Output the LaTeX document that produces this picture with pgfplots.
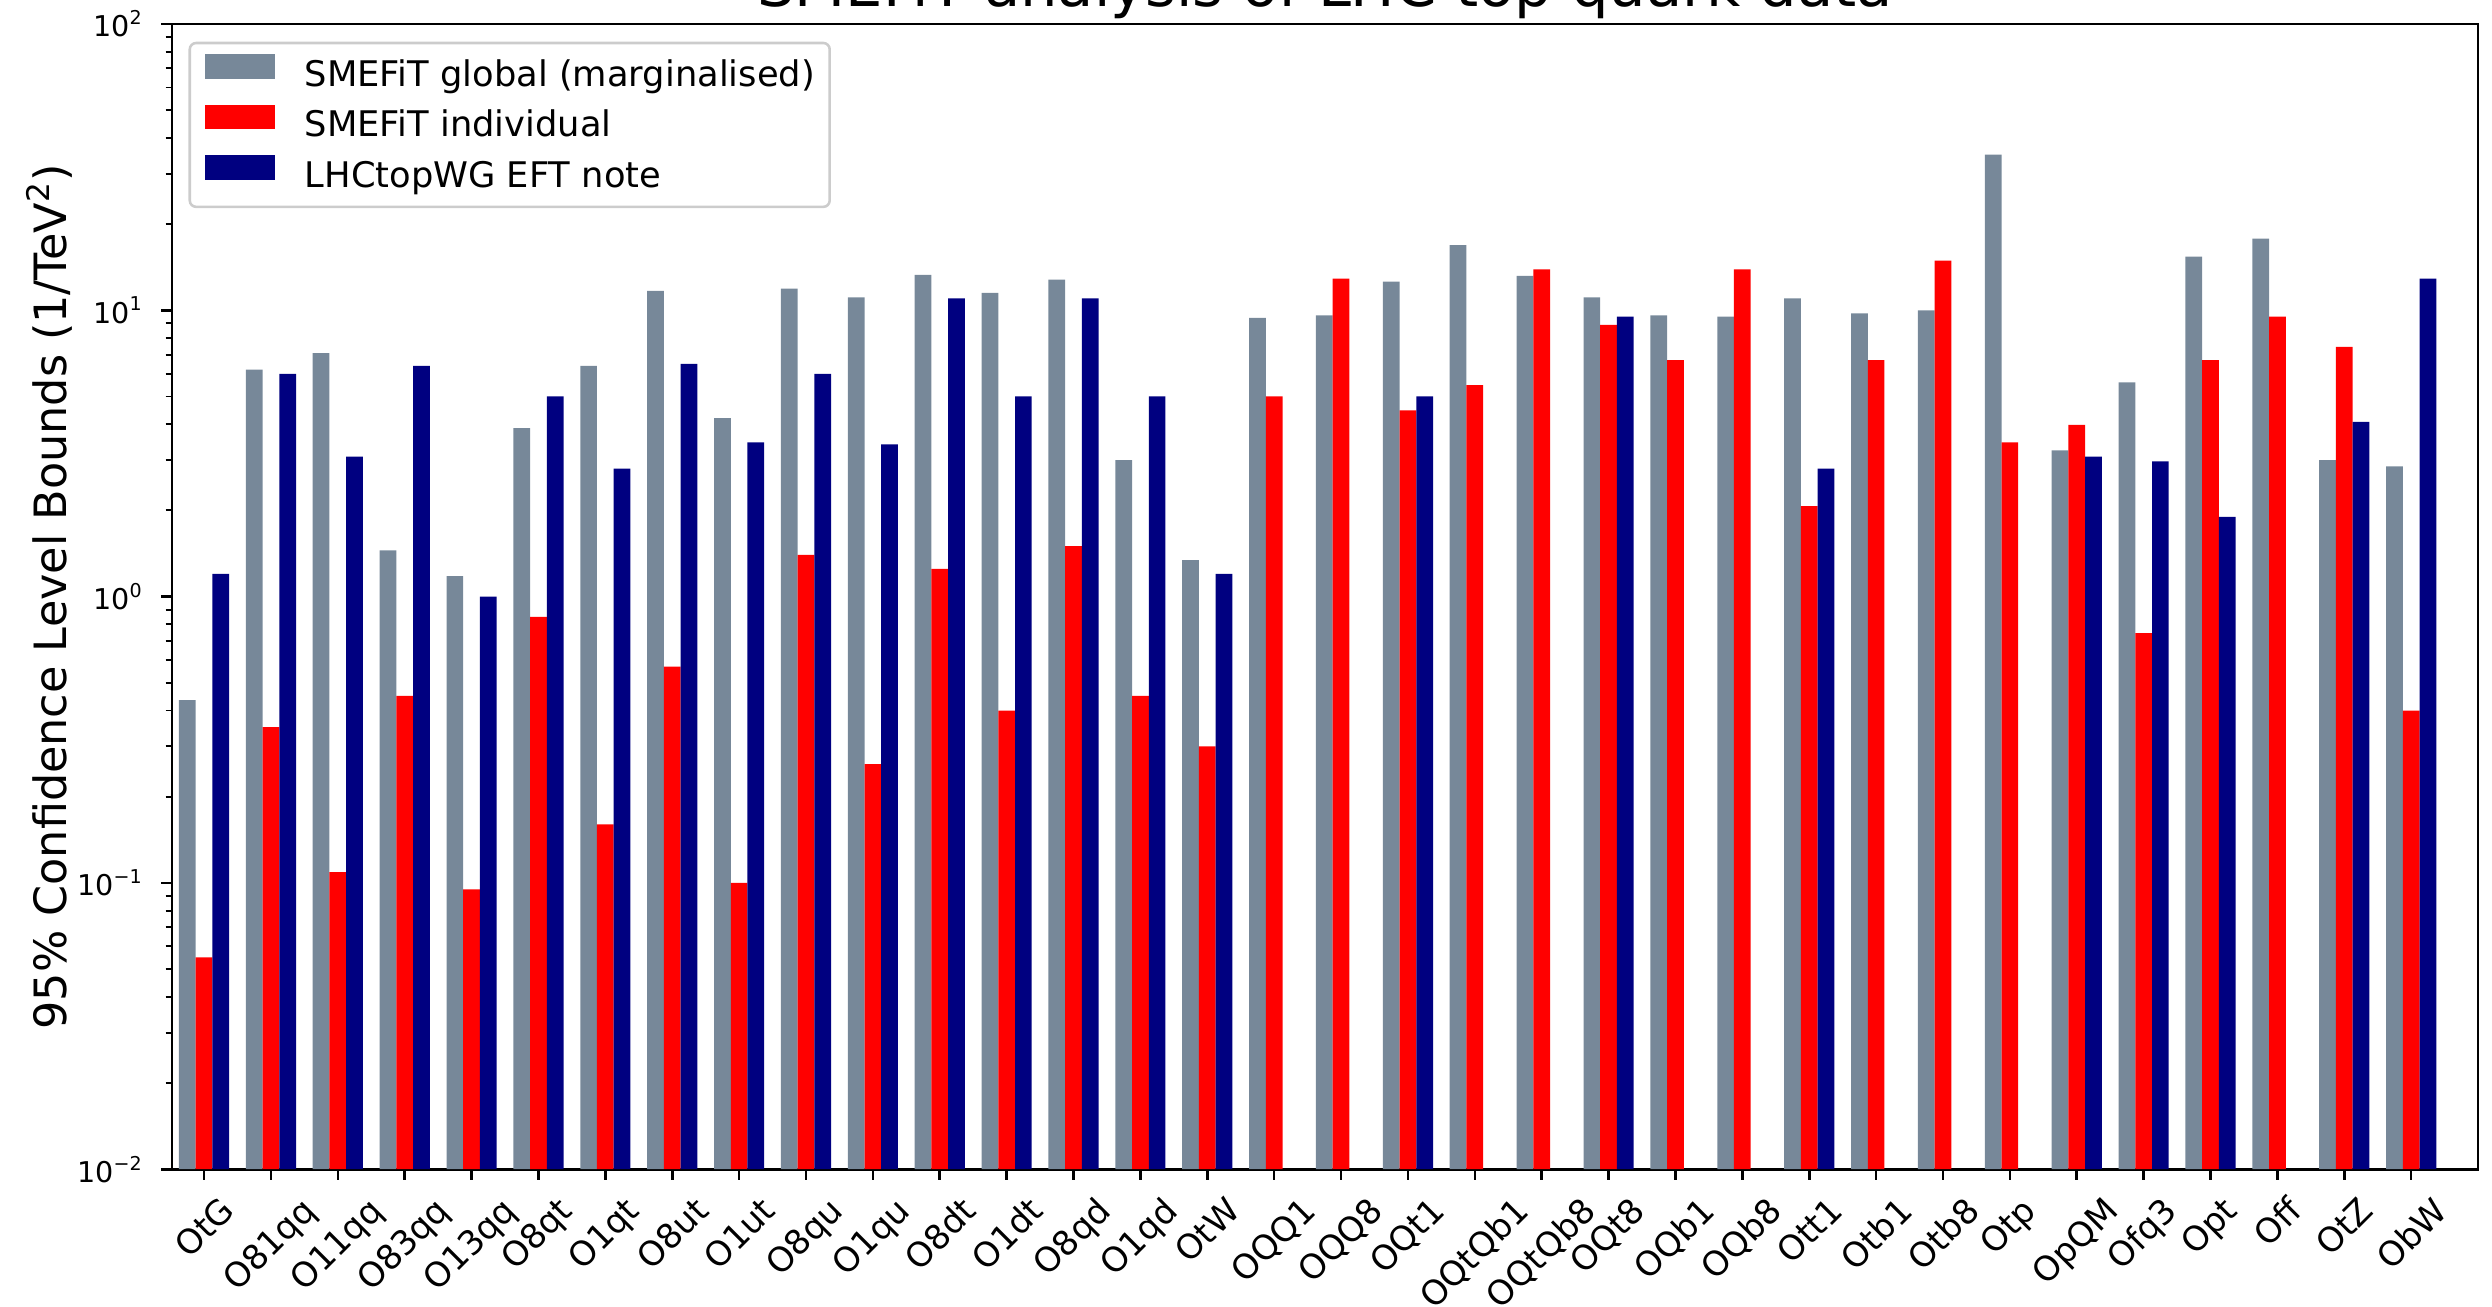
\documentclass[border=0pt]{standalone}
\usepackage{fontspec}
\setmainfont{DejaVu Sans}
\usepackage{pgfplots}
\pgfplotsset{compat=1.18}
\definecolor{slate}{HTML}{778899}
\definecolor{navyc}{HTML}{000080}
\definecolor{redc}{HTML}{FF0000}
\newcommand{\rl}[1]{\rotatebox{45}{#1}}
\begin{document}
\begin{tikzpicture}
\begin{axis}[
  name=ax,
  scale only axis, width=725.5pt, height=360.3pt,
  ymode=log, ymin=1e-2, ymax=1e2, log origin=infty,
  xmin=-0.48, xmax=34.0,
  xtick={0,...,33},
  xticklabels={\rl{OtG},\rl{O81qq},\rl{O11qq},\rl{O83qq},\rl{O13qq},\rl{O8qt},\rl{O1qt},\rl{O8ut},\rl{O1ut},\rl{O8qu},\rl{O1qu},\rl{O8dt},\rl{O1dt},\rl{O8qd},\rl{O1qd},\rl{OtW},\rl{OQQ1},\rl{OQQ8},\rl{OQt1},\rl{OQtQb1},\rl{OQtQb8},\rl{OQt8},\rl{OQb1},\rl{OQb8},\rl{Ott1},\rl{Otb1},\rl{Otb8},\rl{Otp},\rl{OpQM},\rl{Ofq3},\rl{Opt},\rl{Off},\rl{OtZ},\rl{ObW}},
  xticklabel style={anchor=north, inner sep=0pt, yshift=-4.6pt, font=\fontsize{10.7}{12}\selectfont},
  ytick={1e-2,1e-1,1,10,100},
  yticklabels={10\textsuperscript{−2},10\textsuperscript{−1},10\textsuperscript{0},10\textsuperscript{1},10\textsuperscript{2}},
  minor ytick={2e-2,3e-2,4e-2,5e-2,6e-2,7e-2,8e-2,9e-2,2e-1,3e-1,4e-1,5e-1,6e-1,7e-1,8e-1,9e-1,2,3,4,5,6,7,8,9,20,30,40,50,60,70,80,90},
  yticklabel style={anchor=east, inner sep=0pt, xshift=-5.5pt, font=\fontsize{9}{11}\selectfont},
  tick align=outside,
  xtick pos=bottom, ytick pos=left,
  major tick length=3.3pt, minor tick length=2pt,
  every tick/.style={black, line width=0.8pt},
  minor tick style={line width=0.6pt},
  axis line style={line width=0.8pt},
  title={SMEFiT analysis of LHC top quark data},
  title style={at={(axis description cs:0.5,1)}, anchor=base, yshift=-0.6pt, font=\fontsize{18.6}{22}\selectfont},
  ylabel={95\% Confidence Level Bounds (1/TeV\textsuperscript{2})},
  ylabel style={at={(axis description cs:-0.0532,0.5)}, anchor=center, font=\fontsize{14}{16}\selectfont},
  legend style={at={(axis description cs:0.00717,0.9845)}, anchor=north west,
    draw=black!20, line width=0.8pt, rounded corners=2pt, fill=white,
    inner xsep=4.7pt, inner ysep=3.6pt, row sep=3.2pt, column sep=9.5pt,
    font=\fontsize{11.1}{13}\selectfont,
    nodes={inner sep=0pt, text height=8.5pt, text depth=2.6pt}},
  legend cell align=left,
]
\addplot[ybar, bar width=0.25, bar shift=-0.25, fill=slate, draw=none,
  legend image code/.code={\fill[slate, sharp corners] (0pt,-0.6pt) rectangle (22pt,7.1pt);}] coordinates {
(0,0.435) (1,6.2) (2,7.08) (3,1.45) (4,1.18) (5,3.88) (6,6.4) (7,11.7) (8,4.2) (9,11.9) (10,11.1) (11,13.3) (12,11.5) (13,12.8) (14,3.0) (15,1.34) (16,9.4) (17,9.6) (18,12.6) (19,16.9) (20,13.2) (21,11.1) (22,9.6) (23,9.5) (24,11) (25,9.75) (26,10) (27,35) (28,3.24) (29,5.6) (30,15.4) (31,17.8) (32,3.0) (33,2.85)
};
\addlegendentry{SMEFiT global (marginalised)}
\addplot[ybar, bar width=0.25, bar shift=0, fill=redc, draw=none,
  legend image code/.code={\fill[redc, sharp corners] (0pt,-0.6pt) rectangle (22pt,7.1pt);}] coordinates {
(0,0.055) (1,0.35) (2,0.109) (3,0.45) (4,0.095) (5,0.85) (6,0.16) (7,0.57) (8,0.1) (9,1.4) (10,0.26) (11,1.25) (12,0.4) (13,1.5) (14,0.45) (15,0.30) (16,5.0) (17,12.9) (18,4.47) (19,5.48) (20,13.9) (21,8.9) (22,6.7) (23,13.9) (24,2.07) (25,6.7) (26,14.9) (27,3.46) (28,3.98) (29,0.745) (30,6.7) (31,9.5) (32,7.45) (33,0.4)
};
\addlegendentry{SMEFiT individual}
\addplot[ybar, bar width=0.25, bar shift=0.25, fill=navyc, draw=none,
  legend image code/.code={\fill[navyc, sharp corners] (0pt,-0.6pt) rectangle (22pt,7.1pt);}] coordinates {
(0,1.2) (1,6.0) (2,3.08) (3,6.4) (4,1.0) (5,5.0) (6,2.8) (7,6.5) (8,3.46) (9,6.0) (10,3.4) (11,11) (12,5.0) (13,11) (14,5.0) (15,1.2) (18,5.0) (21,9.5) (24,2.8) (28,3.08) (29,2.97) (30,1.9) (32,4.08) (33,12.9)
};
\addlegendentry{LHCtopWG EFT note}
\end{axis}
\pgfresetboundingbox
\useasboundingbox ([xshift=-54.1pt,yshift=-43.3pt]ax.south west) rectangle ([xshift=4.4pt,yshift=7.55pt]ax.north east);
\end{tikzpicture}
\end{document}
